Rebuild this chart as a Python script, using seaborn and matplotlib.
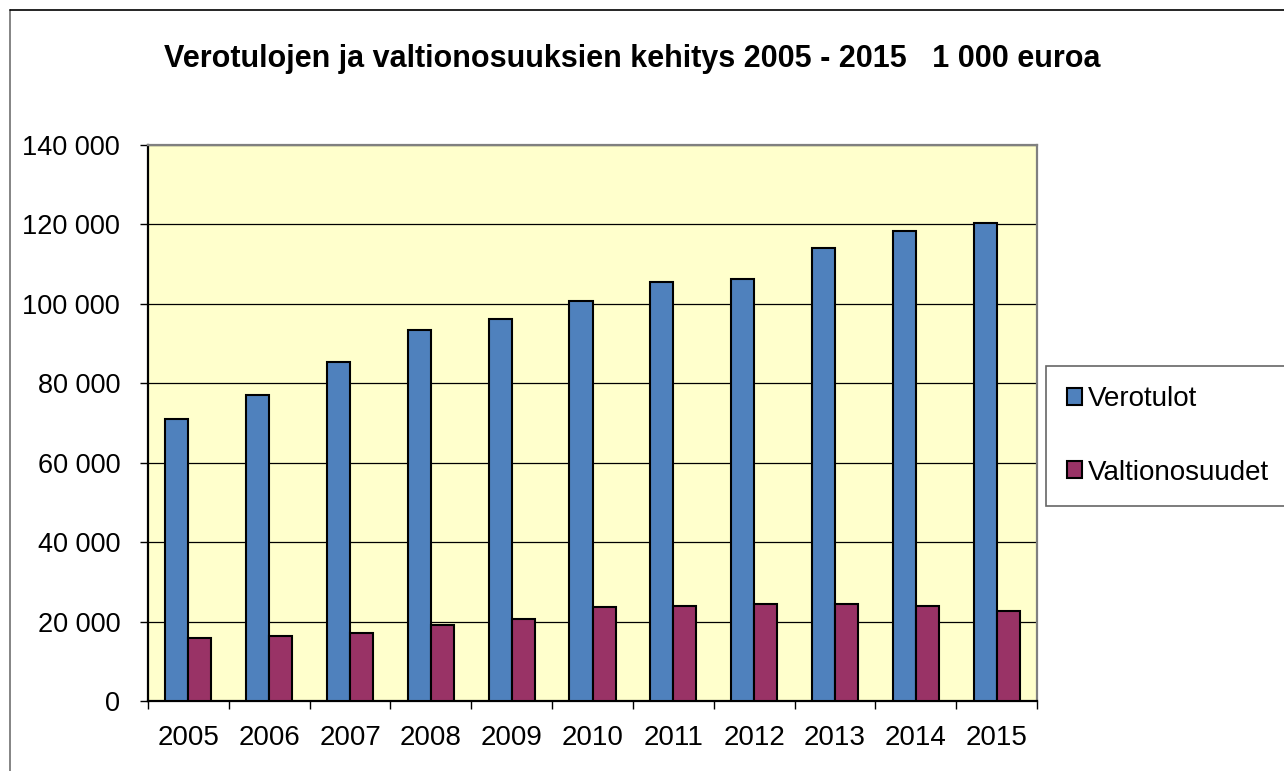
import matplotlib
matplotlib.use("Agg")
import matplotlib.pyplot as plt
import seaborn as sns
import pandas as pd
from matplotlib.lines import Line2D
from matplotlib.ticker import FuncFormatter, FixedLocator

years = ["2005", "2006", "2007", "2008", "2009", "2010", "2011", "2012", "2013", "2014", "2015"]
verotulot = [71100, 77150, 85450, 93300, 96100, 100600, 105600, 106150, 113950, 118300, 120250]
valtionosuudet = [15950, 16450, 17100, 19100, 20550, 23550, 23800, 24300, 24500, 23800, 22550]
series_names = ["Verotulot", "Valtionosuudet"]
colors = ["#4F81BD", "#993366"]
title = "Verotulojen ja valtionosuuksien kehitys 2005 - 2015   1 000 euroa"

df = pd.DataFrame({
    "year": years * 2,
    "value": verotulot + valtionosuudet,
    "series": [series_names[0]] * len(years) + [series_names[1]] * len(years),
})

sns.set_style("white")
plt.rcParams["font.family"] = ["Liberation Sans", "DejaVu Sans"]
plt.rcParams["text.color"] = "black"

W, H = 1284, 771
fig = plt.figure(figsize=(W / 100, H / 100), dpi=100)
ax = fig.add_axes([148 / W, 1 - 701 / H, (1037 - 148) / W, (701 - 145) / H])
ax.set_facecolor("#FFFFCC")

sns.barplot(data=df, x="year", y="value", hue="series", palette=colors,
            saturation=1, width=0.57, edgecolor="black", linewidth=1.5, ax=ax,
            zorder=3, legend=True)

ax.set_ylim(0, 140000)
ax.set_xlim(-0.5, len(years) - 0.5)
ax.set_yticks(range(0, 140001, 20000))
ax.yaxis.set_major_formatter(FuncFormatter(lambda v, p: f"{int(v):,}".replace(",", " ")))
ax.grid(axis="y", color="black", linewidth=0.9, zorder=0)
ax.set_axisbelow(True)
ax.set_xlabel("")
ax.set_ylabel("")

ax.tick_params(axis="x", which="major", length=0, labelsize=20, pad=17, colors="black")
ax.xaxis.set_minor_locator(FixedLocator([i - 0.5 for i in range(len(years) + 1)]))
ax.tick_params(axis="x", which="minor", length=6, width=1, direction="out", bottom=True, color="black")
ax.tick_params(axis="y", length=6, width=1, direction="out", left=True, labelsize=19.5, pad=14, colors="black")

for s in ["left", "bottom"]:
    ax.spines[s].set_color("black")
    ax.spines[s].set_linewidth(1.6)
for s in ["top", "right"]:
    ax.spines[s].set_color("#808080")
    ax.spines[s].set_linewidth(1.6)

handles, labels = ax.get_legend_handles_labels()
ax.legend_.remove()
leg = fig.legend(handles, labels, loc="center left",
                 bbox_to_anchor=(1046 / W, 1 - 436 / H),
                 fontsize=20, frameon=True, fancybox=False, edgecolor="#404040",
                 handlelength=0.55, handleheight=0.55, handletextpad=0.22,
                 labelspacing=1.7, borderpad=0.75, borderaxespad=0)
leg.get_frame().set_linewidth(1.2)
for t in leg.get_texts():
    t.set_color("black")

fig.text(632 / W, 1 - 59 / H, title, ha="center", va="center",
         fontsize=22, fontweight="bold", color="black")

# outer chart border (top and left visible)
fig.add_artist(Line2D([10 / W, 10 / W], [1 - 10 / H, 0], transform=fig.transFigure,
                      color="#707070", linewidth=1.2))
fig.add_artist(Line2D([10 / W, 1], [1 - 10 / H, 1 - 10 / H], transform=fig.transFigure,
                      color="black", linewidth=1.2))

fig.savefig("out.png", dpi=100, facecolor="white")
